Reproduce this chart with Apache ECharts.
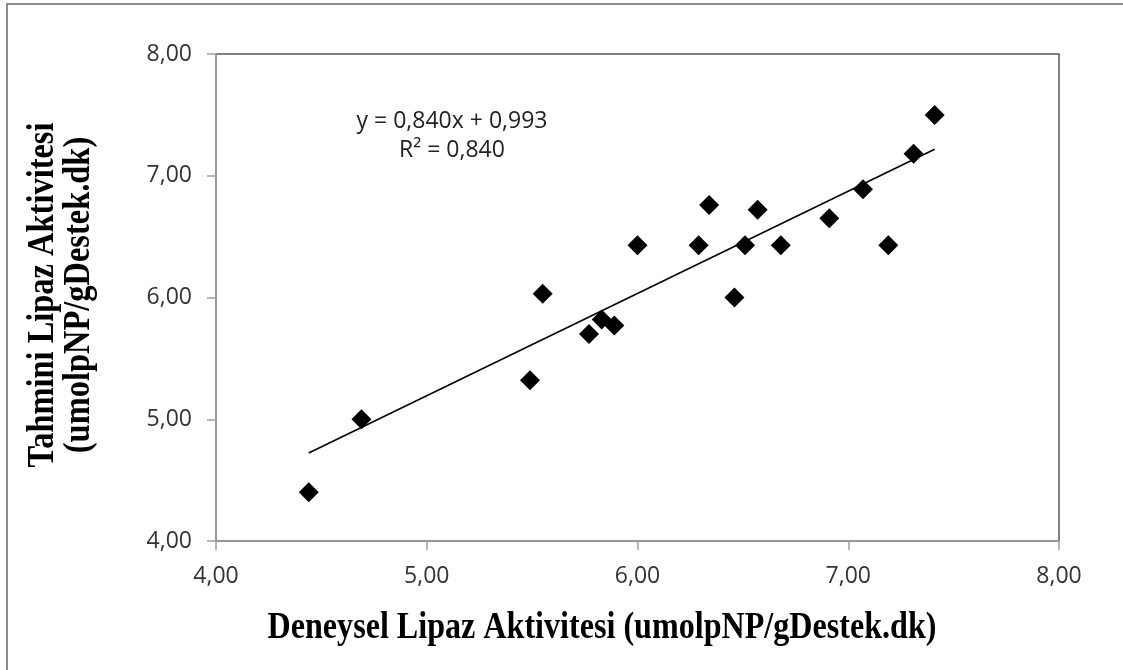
<!DOCTYPE html>
<html>
<head>
<meta charset="utf-8">
<script src="https://cdn.jsdelivr.net/npm/echarts@6/dist/echarts.min.js"></script>
<style>html,body{margin:0;padding:0;background:#fff}#c{width:1123px;height:670px}</style>
</head>
<body>
<div id="c"></div>
<script>
// Experimental (x) vs predicted (y) lipase activity
const experimental = [4.44, 4.69, 5.49, 5.55, 5.77, 5.83, 5.89, 6.00, 6.29, 6.34, 6.46, 6.51, 6.57, 6.68, 6.91, 7.07, 7.19, 7.31, 7.41];
const predicted    = [4.40, 5.00, 5.32, 6.03, 5.70, 5.82, 5.77, 6.43, 6.43, 6.76, 6.00, 6.43, 6.72, 6.43, 6.65, 6.89, 6.43, 7.18, 7.50];
const trendSlope = 0.840;
const trendIntercept = 0.993;
const equationLines = ['y = 0,840x + 0,993', 'R\u00b2 = 0,840'];
const xTitle = 'Deneysel Lipaz Aktivitesi (umolpNP/gDestek.dk)';
const yTitleLines = ['Tahmini Lipaz Aktivitesi', '(umolpNP/gDestek.dk)'];
const axisMin = 4, axisMax = 8, axisStep = 1;

const points = experimental.map((x, i) => [x, predicted[i]]);
const xLo = Math.min(...experimental), xHi = Math.max(...experimental);
const trend = [[xLo, trendSlope * xLo + trendIntercept], [xHi, trendSlope * xHi + trendIntercept]];
const fmt = v => v.toFixed(2).replace('.', ',');

const chart = echarts.init(document.getElementById('c'), null, {renderer: 'canvas'});
const tickFont = {fontFamily: 'Open Sans', fontSize: 23, color: '#333'};
chart.setOption({
  animation: false,
  backgroundColor: '#fff',
  grid: {left: 216, right: 64, top: 54, bottom: 129, show: true, borderColor: '#555', borderWidth: 1.5, backgroundColor: 'transparent'},
  xAxis: {
    type: 'value', min: axisMin, max: axisMax, interval: axisStep,
    axisLine: {show: true, lineStyle: {color: '#a0a0a0', width: 1.5}},
    axisTick: {show: true, inside: false, length: 9, lineStyle: {color: '#a0a0a0', width: 1.5}},
    splitLine: {show: false},
    axisLabel: Object.assign({margin: 24, formatter: fmt}, tickFont)
  },
  yAxis: {
    type: 'value', min: axisMin, max: axisMax, interval: axisStep,
    axisLine: {show: true, lineStyle: {color: '#a0a0a0', width: 1.5}},
    axisTick: {show: true, inside: false, length: 9, lineStyle: {color: '#a0a0a0', width: 1.5}},
    splitLine: {show: false},
    axisLabel: Object.assign({margin: 24, formatter: fmt}, tickFont)
  },
  series: [
    {type: 'line', data: trend, symbol: 'none', silent: true, lineStyle: {color: '#000', width: 1.5}, z: 2},
    {type: 'scatter', data: points, symbol: 'diamond', symbolSize: 20, itemStyle: {color: '#000', opacity: 1}, z: 3}
  ],
  graphic: [
    {type: 'rect', shape: {x: 7, y: 4, width: 1140, height: 700}, style: {fill: null, stroke: '#8c8c8c', lineWidth: 2}, silent: true},
    {type: 'text', x: 452, y: 136, style: {text: equationLines.join('\n'), font: '23px "Open Sans"', fill: '#222', textAlign: 'center', textVerticalAlign: 'middle', lineHeight: 29}},
    {type: 'text', x: 602, y: 628, scaleX: 0.845, style: {text: xTitle, font: 'bold 38px "Liberation Serif"', fill: '#000', textAlign: 'center', textVerticalAlign: 'middle'}},
    {type: 'text', x: 61, y: 295, rotation: Math.PI / 2, scaleX: 0.854, style: {text: yTitleLines.join('\n'), font: 'bold 38px "Liberation Serif"', fill: '#000', textAlign: 'center', textVerticalAlign: 'middle', lineHeight: 36}}
  ]
});
</script>
</body>
</html>
